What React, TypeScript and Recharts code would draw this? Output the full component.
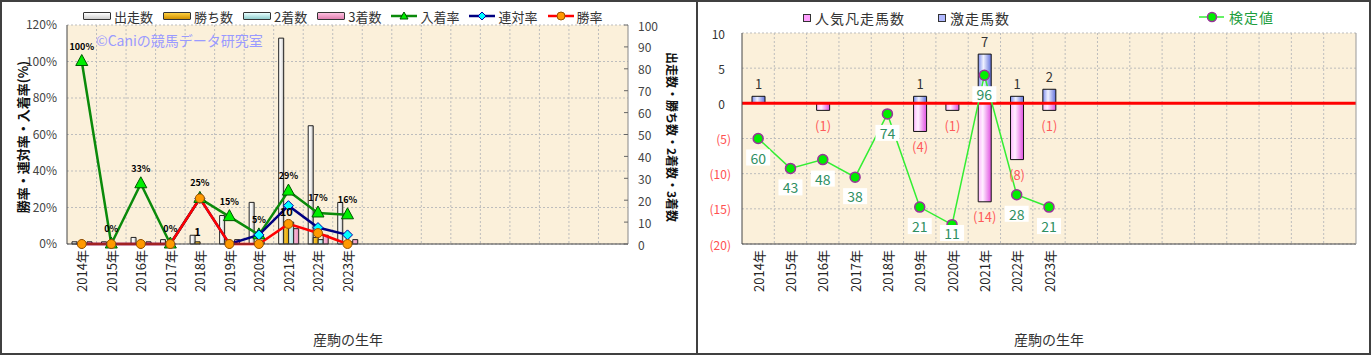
import React from "react";
import {
  ComposedChart,
  Bar,
  Line,
  XAxis,
  YAxis,
  CartesianGrid,
  LabelList,
  ReferenceLine,
} from "recharts";

const FONT = "'Noto Sans CJK JP', 'Noto Sans', sans-serif";
const SLOTS = 19;

const years = ["2014年", "2015年", "2016年", "2017年", "2018年", "2019年", "2020年", "2021年", "2022年", "2023年"];

// left chart: counts per birth year
const runners = [1, 1, 3, 2, 4, 13, 19, 94, 54, 19];
const wins = [0, 0, 0, 0, 1, 0, 0, 10, 3, 0];
const seconds = [0, 0, 0, 0, 0, 0, 1, 10, 2, 1];
const thirds = [1, 0, 1, 0, 0, 2, 0, 7, 4, 2];
const winLabels = ["", "", "", "", "1", "", "", "10", "", ""];
// rates (%)
const placeRate = [100, 0, 33, 0, 25, 15, 5, 29, 17, 16];
const rentaiRate = [0, 0, 0, 0, 25, 0, 5, 21, 9, 5];
const winRate = [0, 0, 0, 0, 25, 0, 0, 11, 6, 0];

const pctTicks = [0, 20, 40, 60, 80, 100, 120];
const countTicks = [0, 10, 20, 30, 40, 50, 60, 70, 80, 90, 100];

// right chart
const flops = [0, 0, -1, 0, 0, -4, -1, -14, -8, -1];
const upsets = [1, 0, 0, 0, 0, 1, 0, 7, 1, 2];
const kentei = [60, 43, 48, 38, 74, 21, 11, 96, 28, 21];
const diffTicks = [-20, -15, -10, -5, 0, 5, 10];

const leftRows = Array.from({ length: SLOTS }, (_, i) =>
  i < years.length
    ? {
        cat: years[i],
        runners: runners[i],
        wins: wins[i],
        seconds: seconds[i],
        thirds: thirds[i],
        winLabel: winLabels[i],
        place: placeRate[i],
        rentai: rentaiRate[i],
        win: winRate[i],
      }
    : { cat: `pad${i}` }
);

const rightRows = Array.from({ length: SLOTS }, (_, i) =>
  i < years.length
    ? { cat: years[i], flop: flops[i], upset: upsets[i], kentei: kentei[i] }
    : { cat: `pad${i}` }
);

const gridX = ({ offset }: any) =>
  Array.from({ length: SLOTS - 1 }, (_, i) => offset.left + ((i + 1) * offset.width) / SLOTS);

const YearTick = (props: any) => {
  const { x, y, payload } = props;
  const v = String(payload.value);
  if (v.startsWith("pad")) return <g />;
  return (
    <text
      x={x}
      y={y}
      transform={`rotate(-90 ${x} ${y})`}
      textAnchor="end"
      dominantBaseline="central"
      fontSize={13}
      fill="#222"
      fontFamily={FONT}
    >
      {v}
    </text>
  );
};

const CountTick = (props: any) => {
  const { x, y, payload } = props;
  return (
    <g>
      <line x1={x - 14} x2={x - 10} y1={y} y2={y} stroke="#666" />
      <text x={x} y={y} dominantBaseline="central" fontSize={12} fill="#444" fontFamily={FONT}>
        {payload.value}
      </text>
    </g>
  );
};

const DiffTick = (props: any) => {
  const { x, y, payload } = props;
  const v = payload.value;
  return (
    <text
      x={v < 0 ? x : x - 6}
      y={y}
      textAnchor="end"
      dominantBaseline="central"
      fontSize={12}
      fill={v < 0 ? "#FF5050" : "#333"}
      fontFamily={FONT}
    >
      {v < 0 ? `(${-v})` : v}
    </text>
  );
};

const triangleDot = (props: any) => {
  const { cx, cy, index } = props;
  if (cx == null || cy == null) return <g key={`t${index}`} />;
  return (
    <path
      key={`t${index}`}
      d={`M${cx},${cy - 7} L${cx + 6},${cy + 4} L${cx - 6},${cy + 4} Z`}
      fill="#00EE00"
      stroke="#005500"
      strokeWidth={1}
    />
  );
};

const diamondDot = (props: any) => {
  const { cx, cy, index } = props;
  if (cx == null || cy == null) return <g key={`d${index}`} />;
  return (
    <path
      key={`d${index}`}
      d={`M${cx},${cy - 5} L${cx + 5},${cy} L${cx},${cy + 5} L${cx - 5},${cy} Z`}
      fill="#00FFFF"
      stroke="#0000AA"
      strokeWidth={1}
    />
  );
};

const circleDot = (props: any) => {
  const { cx, cy, index } = props;
  if (cx == null || cy == null) return <g key={`c${index}`} />;
  return <circle key={`c${index}`} cx={cx} cy={cy} r={4.5} fill="#FF9900" stroke="#995500" strokeWidth={1} />;
};

const kenteiDot = (props: any) => {
  const { cx, cy, index } = props;
  if (cx == null || cy == null) return <g key={`k${index}`} />;
  return <circle key={`k${index}`} cx={cx} cy={cy} r={5} fill="#00EE00" stroke="#993399" strokeWidth={1.5} />;
};

// label box under each point, kept inside the plot area like the original
const KenteiLabel = (props: any) => {
  const { x, y, value } = props;
  if (value == null || x == null) return null;
  const cy = Math.min(y + 19, 233);
  return (
    <g>
      <rect x={x - 12} y={cy - 8} width={24} height={16} fill="#fff" />
      <text x={x} y={cy} textAnchor="middle" dominantBaseline="central" fill="#2F8F62" fontSize={14} fontFamily={FONT}>
        {value}
      </text>
    </g>
  );
};

const FlopLabel = (props: any) => {
  const vb = props.viewBox ?? props;
  const { x, y, width, height } = vb;
  const value = props.value;
  if (!value) return null;
  const bottom = Math.max(y, y + height);
  return (
    <text x={x + width / 2} y={bottom + 15} textAnchor="middle" dominantBaseline="central" fill="#FF5A5A" fontSize={13} fontFamily={FONT}>
      {`(${-value})`}
    </text>
  );
};

const BarIcon = ({ grad }: { grad: string }) => (
  <div style={{ width: 26, height: 6, border: "1.5px solid #333", background: grad, borderRadius: 1 }} />
);

const LineIcon = ({ color, marker }: { color: string; marker: React.ReactNode }) => (
  <svg width={26} height={12}>
    <line x1={0} x2={26} y1={6} y2={6} stroke={color} strokeWidth={2.5} />
    {marker}
  </svg>
);

const legendText: React.CSSProperties = { fontSize: 13, color: "#333", marginLeft: 3, marginRight: 10 };

export default function App() {
  return (
    <div style={{ position: "absolute", left: 0, top: 0, width: 1371, height: 355, background: "#fff", fontFamily: FONT }}>
      <svg width={0} height={0} style={{ position: "absolute" }}>
        <defs>
          <linearGradient id="gWhite" x1="0" x2="1" y1="0" y2="0">
            <stop offset="0" stopColor="#ffffff" />
            <stop offset="0.5" stopColor="#f4f4f4" />
            <stop offset="1" stopColor="#b8b8b8" />
          </linearGradient>
          <linearGradient id="gGold" x1="0" x2="1" y1="0" y2="0">
            <stop offset="0" stopColor="#FFD040" />
            <stop offset="1" stopColor="#E0A000" />
          </linearGradient>
          <linearGradient id="gCyan" x1="0" x2="1" y1="0" y2="0">
            <stop offset="0" stopColor="#E8FFFF" />
            <stop offset="1" stopColor="#A0DCDC" />
          </linearGradient>
          <linearGradient id="gPink" x1="0" x2="1" y1="0" y2="0">
            <stop offset="0" stopColor="#FFC0E0" />
            <stop offset="1" stopColor="#E890B8" />
          </linearGradient>
          <linearGradient id="gMag" x1="0" x2="1" y1="0" y2="0">
            <stop offset="0" stopColor="#FFB8FF" />
            <stop offset="0.35" stopColor="#FFF0FF" />
            <stop offset="1" stopColor="#E050E0" />
          </linearGradient>
          <linearGradient id="gBlue" x1="0" x2="1" y1="0" y2="0">
            <stop offset="0" stopColor="#8090EE" />
            <stop offset="0.4" stopColor="#F0F2FF" />
            <stop offset="1" stopColor="#6070DD" />
          </linearGradient>
        </defs>
      </svg>

      {/* left chart */}
      <div style={{ position: "absolute", left: 0, top: 0 }}>
        <ComposedChart width={697} height={355} data={leftRows} margin={{ top: 25, right: 0, bottom: 0, left: 0 }} barGap={0}>
          <CartesianGrid
            yAxisId="pct"
            fill="#FBF0DA"
            fillOpacity={1}
            stroke="#BDBDBD"
            strokeDasharray="2 2"
            verticalCoordinatesGenerator={gridX}
          />
          <XAxis
            dataKey="cat"
            height={111}
            interval={0}
            tickLine={false}
            tickSize={0}
            tickMargin={6}
            axisLine={{ stroke: "#444" }}
            tick={<YearTick />}
          />
          <XAxis xAxisId="top" dataKey="cat" orientation="top" height={0} tick={false} tickLine={false} axisLine={{ stroke: "#999" }} />
          <YAxis
            yAxisId="pct"
            domain={[0, 120]}
            ticks={pctTicks}
            interval={0}
            width={67}
            tickFormatter={(v) => `${v}%`}
            tickLine={false}
            tickSize={0}
            tickMargin={10}
            axisLine={{ stroke: "#444" }}
            tick={{ fontSize: 12, fill: "#444", fontFamily: FONT }}
          />
          <YAxis
            yAxisId="cnt"
            orientation="right"
            domain={[0, 100]}
            ticks={countTicks}
            interval={0}
            width={69}
            tickLine={false}
            tickSize={0}
            tickMargin={10}
            axisLine={{ stroke: "#888" }}
            tick={<CountTick />}
          />
          <Bar yAxisId="cnt" dataKey="runners" barSize={5} fill="url(#gWhite)" stroke="#222" strokeWidth={1} isAnimationActive={false} />
          <Bar yAxisId="cnt" dataKey="wins" barSize={5} fill="url(#gGold)" stroke="#222" strokeWidth={1} isAnimationActive={false}>
            <LabelList dataKey="winLabel" position="top" offset={6} style={{ fontSize: 11, fontWeight: "bold", fill: "#000", fontFamily: FONT }} />
          </Bar>
          <Bar yAxisId="cnt" dataKey="seconds" barSize={5} fill="url(#gCyan)" stroke="#222" strokeWidth={1} isAnimationActive={false} />
          <Bar yAxisId="cnt" dataKey="thirds" barSize={5} fill="url(#gPink)" stroke="#222" strokeWidth={1} isAnimationActive={false} />
          <Line yAxisId="pct" type="linear" dataKey="place" stroke="#0A8A0A" strokeWidth={2.5} dot={triangleDot} isAnimationActive={false}>
            <LabelList
              dataKey="place"
              position="top"
              offset={12}
              formatter={(v: any) => (v == null ? "" : `${v}%`)}
              style={{ fontSize: 9, fontWeight: "bold", fill: "#000", fontFamily: FONT }}
            />
          </Line>
          <Line yAxisId="pct" type="linear" dataKey="rentai" stroke="#000080" strokeWidth={2.5} dot={diamondDot} isAnimationActive={false} />
          <Line yAxisId="pct" type="linear" dataKey="win" stroke="#FF0000" strokeWidth={2.5} dot={circleDot} isAnimationActive={false} />
        </ComposedChart>
      </div>

      {/* right chart */}
      <div style={{ position: "absolute", left: 699, top: 0 }}>
        <ComposedChart width={672} height={355} data={rightRows} stackOffset="sign" margin={{ top: 33, right: 0, bottom: 0, left: 0 }}>
          <CartesianGrid
            yAxisId="diff"
            fill="#FBF0DA"
            fillOpacity={1}
            stroke="#BDBDBD"
            strokeDasharray="2 2"
            verticalCoordinatesGenerator={gridX}
          />
          <XAxis
            dataKey="cat"
            height={111}
            interval={0}
            tickLine={false}
            tickSize={0}
            tickMargin={6}
            axisLine={{ stroke: "#444" }}
            tick={<YearTick />}
          />
          <XAxis xAxisId="top" dataKey="cat" orientation="top" height={0} tick={false} tickLine={false} axisLine={{ stroke: "#999" }} />
          <YAxis
            yAxisId="diff"
            domain={[-20, 10]}
            ticks={diffTicks}
            interval={0}
            width={43}
            tickLine={false}
            tickSize={0}
            tickMargin={11}
            axisLine={{ stroke: "#444" }}
            tick={<DiffTick />}
          />
          <YAxis yAxisId="k" orientation="right" domain={[0, 120]} width={15} tick={false} tickLine={false} axisLine={{ stroke: "#999" }} />
          <Bar yAxisId="diff" dataKey="flop" stackId="s" barSize={13} fill="url(#gMag)" stroke="#111" strokeWidth={1} isAnimationActive={false}>
            <LabelList dataKey="flop" content={<FlopLabel />} />
          </Bar>
          <Bar yAxisId="diff" dataKey="upset" stackId="s" barSize={13} fill="url(#gBlue)" stroke="#111" strokeWidth={1} isAnimationActive={false}>
            <LabelList
              dataKey="upset"
              position="top"
              offset={7}
              formatter={(v: any) => (v ? v : "")}
              style={{ fontSize: 13, fill: "#333", fontFamily: FONT }}
            />
          </Bar>
          <ReferenceLine yAxisId="diff" y={0} stroke="#FF0000" strokeWidth={3} />
          <Line yAxisId="k" type="linear" dataKey="kentei" stroke="#33EE33" strokeWidth={1.5} dot={kenteiDot} isAnimationActive={false}>
            <LabelList dataKey="kentei" content={<KenteiLabel />} />
          </Line>
        </ComposedChart>
      </div>

      {/* left legend */}
      <div style={{ position: "absolute", left: 83, top: 9, height: 14, display: "flex", alignItems: "center", whiteSpace: "nowrap" }}>
        <BarIcon grad="linear-gradient(#fff, #ccc)" />
        <span style={legendText}>出走数</span>
        <BarIcon grad="linear-gradient(#FFD040, #D09000)" />
        <span style={legendText}>勝ち数</span>
        <BarIcon grad="linear-gradient(#E8FFFF, #90CCCC)" />
        <span style={legendText}>2着数</span>
        <BarIcon grad="linear-gradient(#FFC0E0, #E080B0)" />
        <span style={legendText}>3着数</span>
        <LineIcon color="#0A8A0A" marker={<path d="M13,2 L17,9 L9,9 Z" fill="#00EE00" stroke="#005500" />} />
        <span style={legendText}>入着率</span>
        <LineIcon color="#000080" marker={<path d="M13,2 L17,6 L13,10 L9,6 Z" fill="#00FFFF" stroke="#0000AA" />} />
        <span style={legendText}>連対率</span>
        <LineIcon color="#FF0000" marker={<circle cx={13} cy={6} r={4} fill="#FF9900" stroke="#995500" />} />
        <span style={legendText}>勝率</span>
      </div>

      {/* watermark */}
      <div style={{ position: "absolute", left: 96, top: 30, fontSize: 14, color: "#9A9AFF", whiteSpace: "nowrap" }}>©Caniの競馬データ研究室</div>

      {/* axis titles */}
      <div style={{ position: "absolute", left: 22, top: 137, transform: "translate(-50%, -50%) rotate(-90deg)", whiteSpace: "nowrap", fontSize: 13, fontWeight: "bold", color: "#111" }}>
        勝率・連対率・入着率(%)
      </div>
      <div style={{ position: "absolute", left: 672, top: 137, transform: "translate(-50%, -50%) rotate(90deg)", whiteSpace: "nowrap", fontSize: 12, fontWeight: "bold", color: "#111" }}>
        出走数・勝ち数・2着数・3着数
      </div>
      <div style={{ position: "absolute", left: 348, top: 339, transform: "translate(-50%, -50%)", whiteSpace: "nowrap", fontSize: 14, color: "#333" }}>
        産駒の生年
      </div>

      {/* right legend */}
      <div style={{ position: "absolute", left: 803, top: 10, height: 16, display: "flex", alignItems: "center", whiteSpace: "nowrap", fontSize: 14, color: "#333" }}>
        <div style={{ width: 6, height: 6, border: "1.5px solid #333", background: "#FFA0FF" }} />
        <span style={{ marginLeft: 4, letterSpacing: 1 }}>人気凡走馬数</span>
        <div style={{ width: 6, height: 6, border: "1.5px solid #333", background: "#B0B8FF", marginLeft: 33 }} />
        <span style={{ marginLeft: 4, letterSpacing: 1 }}>激走馬数</span>
      </div>
      <div style={{ position: "absolute", left: 1199, top: 9, height: 16, display: "flex", alignItems: "center", whiteSpace: "nowrap", fontSize: 14, color: "#1E9E3E" }}>
        <svg width={25} height={14}>
          <line x1={0} x2={25} y1={7} y2={7} stroke="#33EE33" strokeWidth={1.5} />
          <circle cx={13} cy={7} r={4.5} fill="#00EE00" stroke="#993399" strokeWidth={1.5} />
        </svg>
        <span style={{ marginLeft: 5, letterSpacing: 1 }}>検定値</span>
      </div>
      <div style={{ position: "absolute", left: 1049, top: 339, transform: "translate(-50%, -50%)", whiteSpace: "nowrap", fontSize: 14, color: "#333" }}>
        産駒の生年
      </div>

      {/* frame */}
      <div style={{ position: "absolute", left: 0, top: 0, width: 1371, height: 355, border: "2px solid #404040", boxSizing: "border-box", pointerEvents: "none" }} />
      <div style={{ position: "absolute", left: 696, top: 0, width: 2, height: 355, background: "#404040" }} />
    </div>
  );
}
